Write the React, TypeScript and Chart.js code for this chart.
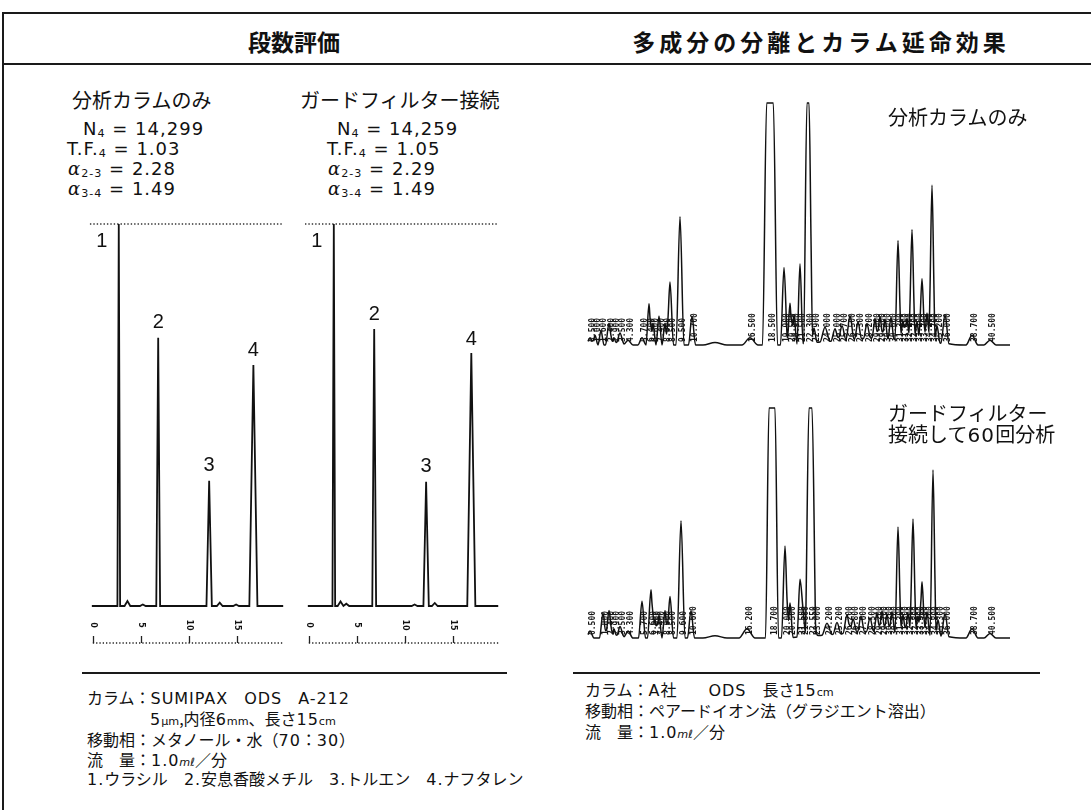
import React, { useEffect, useRef } from "react";
import { Chart, registerables } from "chart.js";

Chart.register(...registerables);

// ================= DATA =================
// 段数評価 : retention time (min) / response (% of full scale)
const plateTimeTicks = [0, 5, 10, 15];
const plateNames = ["1", "2", "3", "4"];

// 分析カラムのみ
const colOnlyPeakTimes = [2.7, 6.8, 12.1, 16.7];
const colOnlyPeakHeights = [100, 70.2, 32.8, 63.1];
const colOnlyPeakWidths = [0.14, 0.2, 0.28, 0.42];
const colOnlyMinorTimes = [3.6, 5.2, 13.2, 14.9];
const colOnlyMinorHeights = [1.3, 0.4, 0.9, 0.4];
const colOnlyMinorWidths = [0.3, 0.3, 0.3, 0.3];
const colOnlyTraceRange = [-0.1, 19.8];
const colOnlyFullScaleRange = [-0.3, 19.8];
const colOnlyAxisRange = [0, 19.8];

// ガードフィルター接続
const guardPeakTimes = [2.6, 6.8, 12.2, 16.9];
const guardPeakHeights = [100, 72.5, 32.5, 66.2];
const guardPeakWidths = [0.14, 0.2, 0.28, 0.42];
const guardMinorTimes = [3.3, 3.9, 11.0, 13.1];
const guardMinorHeights = [1.2, 0.6, 0.4, 0.8];
const guardMinorWidths = [0.3, 0.3, 0.3, 0.3];
const guardTraceRange = [-0.1, 19.7];
const guardFullScaleRange = [-0.4, 19.7];
const guardAxisRange = [0, 19.7];

// 多成分の分離 : 分析カラムのみ (time, % full scale, half width)
const sepOnlyTimes = [0.5, 1.0, 1.6, 2.4, 2.9, 3.5, 4.3, 5.7, 6.4, 6.8, 7.4, 8.0, 8.5, 9.5, 10.7, 13.0, 16.5, 18.5, 19.9, 20.5, 20.9, 21.5, 22.3, 22.9, 24.0, 25.0, 25.7, 26.5, 27.3, 28.2, 28.9, 29.0, 29.5, 30.0, 30.6, 31.3, 31.8, 32.2, 32.7, 33.2, 33.7, 34.2, 34.7, 35.2, 36.0, 38.7, 40.5];
const sepOnlyHeights = [3, 4, 6, 9, 3, 5, 2, 3, 17, 9, 12, 9, 26, 53, 12, 1, 3, 180, 32, 17, 12, 33, 130, 6, 6, 5, 6, 10, 7, 6, 3, 8, 9, 8, 9, 41, 8, 9, 46, 8, 26, 12, 65, 7, 12, 4, 2];
const sepOnlyWidths = [0.4, 0.3, 0.3, 0.35, 0.3, 0.4, 0.5, 0.4, 0.3, 0.3, 0.3, 0.3, 0.35, 0.4, 0.35, 1.2, 0.8, 0.75, 0.35, 0.3, 0.3, 0.3, 0.45, 0.3, 0.5, 0.4, 0.4, 0.4, 0.35, 0.35, 9, 0.3, 0.3, 0.3, 0.3, 0.3, 0.3, 0.3, 0.3, 0.3, 0.3, 0.3, 0.3, 0.3, 0.4, 0.6, 0.6];
const sepOnlyRange = [0.3, 42.5];

// 多成分の分離 : ガードフィルター接続して60回分析
const sepGuardTimes = [0.5, 1.8, 2.4, 2.9, 3.5, 4.3, 5.7, 6.6, 7.0, 7.4, 8.0, 8.5, 9.6, 10.6, 13.0, 16.2, 18.7, 20.0, 20.5, 21.5, 21.8, 22.55, 23.0, 24.2, 25.2, 26.2, 26.8, 27.6, 28.5, 29.0, 29.2, 29.7, 30.2, 30.7, 31.3, 31.8, 32.3, 32.8, 33.3, 33.7, 34.2, 34.8, 35.3, 36.0, 38.7, 40.5];
const sepGuardHeights = [3, 11, 12, 4, 5, 3, 16, 21, 8, 10, 12, 18, 51, 12, 1, 4, 185, 40, 15, 25, 12, 143, 6, 5, 5, 8, 6, 7, 6, 3, 8, 9, 8, 9, 46, 8, 9, 50, 8, 23, 10, 72, 7, 10, 4, 2];
const sepGuardWidths = [0.4, 0.35, 0.35, 0.3, 0.4, 0.5, 0.35, 0.35, 0.3, 0.3, 0.3, 0.35, 0.4, 0.35, 1.2, 0.8, 0.65, 0.35, 0.3, 0.3, 0.3, 0.5, 0.3, 0.5, 0.4, 0.4, 0.4, 0.35, 0.35, 9, 0.3, 0.3, 0.3, 0.3, 0.3, 0.3, 0.3, 0.3, 0.3, 0.3, 0.3, 0.3, 0.3, 0.4, 0.6, 0.6];
const sepGuardRange = [0.3, 42.5];

const FULL_SCALE = 100;

// ================= HELPERS =================
type Pt = { x: number; y: number };

function buildTrace(times: number[], heights: number[], widths: number[], start: number, end: number): Pt[] {
  const knots: number[] = [start, end];
  times.forEach((t, i) => {
    const w = widths[i];
    const h = heights[i];
    knots.push(t - w, t, t + w);
    if (h > FULL_SCALE) {
      const d = w * (1 - FULL_SCALE / h);
      knots.push(t - d, t + d);
    }
  });
  const xs = Array.from(
    new Set(knots.filter((k) => k >= start && k <= end).map((k) => Math.round(k * 10000) / 10000))
  ).sort((a, b) => a - b);
  return xs.map((x) => {
    let y = 0;
    times.forEach((t, i) => {
      const d = Math.abs(x - t);
      if (d < widths[i]) y += heights[i] * (1 - d / widths[i]);
    });
    return { x, y: Math.min(y, FULL_SCALE) };
  });
}

function peakLabelPlugin(times: number[], heights: number[], names: string[]) {
  const offsets = [[-17, 17], [0, -15], [0, -15], [0, -14]];
  return {
    id: "peakLabels",
    afterDatasetsDraw(chart: any) {
      const { ctx, scales } = chart;
      ctx.save();
      ctx.fillStyle = "#111";
      ctx.font = '20px "Liberation Sans", Arial, sans-serif';
      ctx.textAlign = "center";
      ctx.textBaseline = "middle";
      names.forEach((n, i) => {
        const px = scales.x.getPixelForValue(times[i]) + offsets[i][0];
        const py = scales.y.getPixelForValue(heights[i]) + offsets[i][1];
        ctx.fillText(n, px, py);
      });
      ctx.restore();
    },
  };
}

function timeAxisPlugin(ticks: number[], range: number[]) {
  return {
    id: "timeAxis",
    afterDraw(chart: any) {
      const { ctx, scales } = chart;
      const y0 = scales.y.getPixelForValue(0) + 37;
      ctx.save();
      ctx.strokeStyle = "#222";
      ctx.fillStyle = "#111";
      ctx.lineWidth = 1.3;
      ctx.setLineDash([1.3, 2]);
      ctx.beginPath();
      ctx.moveTo(scales.x.getPixelForValue(range[0]), y0);
      ctx.lineTo(scales.x.getPixelForValue(range[1]), y0);
      ctx.stroke();
      ctx.setLineDash([]);
      ticks.forEach((v) => {
        const px = Math.round(scales.x.getPixelForValue(v)) + 0.5;
        ctx.beginPath();
        ctx.moveTo(px, y0);
        ctx.lineTo(px, y0 - 7);
        ctx.stroke();
        ctx.save();
        ctx.translate(px, y0 - 18);
        ctx.rotate(Math.PI / 2);
        ctx.font = 'bold 8px "DejaVu Sans", sans-serif';
        ctx.textAlign = "center";
        ctx.textBaseline = "middle";
        ctx.fillText(String(v), 0, 0);
        ctx.restore();
      });
      ctx.restore();
    },
  };
}

function rtLabelPlugin(times: number[], widths: number[]) {
  return {
    id: "rtLabels",
    beforeDatasetsDraw(chart: any) {
      const { ctx, scales } = chart;
      const base = scales.y.getPixelForValue(0);
      ctx.save();
      ctx.fillStyle = "#151515";
      ctx.font = 'bold 8px "DejaVu Sans Mono", monospace';
      ctx.textAlign = "left";
      ctx.textBaseline = "middle";
      times.forEach((t, i) => {
        if (widths[i] >= 1) return;
        const px = scales.x.getPixelForValue(t) + 3;
        ctx.save();
        ctx.translate(px, base - 3);
        ctx.rotate(-Math.PI / 2);
        ctx.fillText(t.toFixed(3), 0, 0);
        ctx.restore();
      });
      ctx.restore();
    },
  };
}

function chromConfig(p: {
  trace: Pt[];
  xMin: number;
  xMax: number;
  yMin: number;
  yMax: number;
  lineWidth: number;
  padding: any;
  smooth?: boolean;
  extra?: any[];
  plugins: any[];
}) {
  return {
    type: "line",
    data: {
      datasets: [
        {
          data: p.trace,
          borderColor: "#111",
          borderWidth: p.lineWidth,
          pointRadius: 0,
          tension: p.smooth ? 0.4 : 0,
          cubicInterpolationMode: p.smooth ? "monotone" : "default",
          fill: false,
          clip: false,
          borderJoinStyle: "miter",
        },
        ...(p.extra || []),
      ],
    },
    options: {
      animation: false,
      responsive: false,
      maintainAspectRatio: false,
      events: [],
      layout: { padding: p.padding },
      scales: {
        x: { type: "linear", min: p.xMin, max: p.xMax, display: false },
        y: { type: "linear", min: p.yMin, max: p.yMax, display: false },
      },
      plugins: { legend: { display: false }, tooltip: { enabled: false } },
    },
    plugins: p.plugins,
  } as any;
}

function ChromCanvas({ left, top, width, height, make }: { left: number; top: number; width: number; height: number; make: () => any }) {
  const ref = useRef<HTMLCanvasElement>(null);
  useEffect(() => {
    const chart = new Chart(ref.current as HTMLCanvasElement, make());
    return () => chart.destroy();
  }, []);
  return (
    <canvas
      ref={ref}
      width={width}
      height={height}
      style={{ position: "absolute", left, top, width, height }}
    />
  );
}

function plateChart(
  times: number[], heights: number[], widths: number[],
  mTimes: number[], mHeights: number[], mWidths: number[],
  traceRange: number[], fsRange: number[], axisRange: number[]
) {
  return () =>
    chromConfig({
      trace: buildTrace(times.concat(mTimes), heights.concat(mHeights), widths.concat(mWidths), traceRange[0], traceRange[1]),
      xMin: -0.5,
      xMax: 20.3,
      yMin: -11.52,
      yMax: 102.62,
      lineWidth: 1.8,
      padding: { left: 8, right: 8, top: 10, bottom: 10 },
      extra: [
        {
          data: [
            { x: fsRange[0], y: FULL_SCALE },
            { x: fsRange[1], y: FULL_SCALE },
          ],
          borderColor: "#333",
          borderWidth: 1.3,
          borderDash: [1.4, 2],
          pointRadius: 0,
          clip: false,
        },
      ],
      plugins: [peakLabelPlugin(times, heights, plateNames), timeAxisPlugin(plateTimeTicks, axisRange)],
    });
}

function sepChart(times: number[], heights: number[], widths: number[], range: number[], yMin: number, yMax: number) {
  return () =>
    chromConfig({
      trace: buildTrace(times, heights, widths, range[0], range[1]),
      xMin: -0.2,
      xMax: 42.8,
      yMin,
      yMax,
      lineWidth: 1.5,
      padding: 5,
      smooth: true,
      plugins: [rtLabelPlugin(times, widths)],
    });
}

// ================= TEXT =================
const JP = '"Noto Sans CJK JP", "Noto Sans", sans-serif';
const LAT = '"DejaVu Sans", "Noto Sans CJK JP", sans-serif';

function Line({ x, cy, size = 16, children, style }: any) {
  return (
    <div
      style={{
        position: "absolute",
        left: x,
        top: cy - size * 0.65,
        height: size * 1.3,
        lineHeight: `${size * 1.3}px`,
        fontSize: size,
        fontFamily: JP,
        whiteSpace: "nowrap",
        color: "#111",
        ...style,
      }}
    >
      {children}
    </div>
  );
}

const L = ({ children }: any) => (
  <span style={{ fontFamily: LAT, letterSpacing: "0.06em" }}>{children}</span>
);
const U = ({ children, italic }: any) => (
  <span style={{ fontFamily: LAT, fontSize: "0.7em", fontStyle: italic ? "italic" : "normal" }}>{children}</span>
);
const Sub = ({ children }: any) => (
  <span style={{ fontSize: "0.62em", position: "relative", top: "0.12em" }}>{children}</span>
);
const Alpha = () => <span style={{ fontFamily: '"DejaVu Serif", serif', fontStyle: "italic" }}>α</span>;

function Stat({ x, cy, children }: any) {
  return (
    <Line x={x} cy={cy} size={18} style={{ fontFamily: LAT, letterSpacing: "1px" }}>
      {children}
    </Line>
  );
}

export default function App() {
  const rule = (left: number, top: number, width: number, height: number) => (
    <div style={{ position: "absolute", left, top, width, height, background: "#1a1a1a" }} />
  );
  return (
    <div
      style={{
        position: "absolute",
        left: 0,
        top: 0,
        width: 1091,
        height: 810,
        background: "#fff",
        overflow: "hidden",
        fontFamily: JP,
      }}
    >
      {rule(2, 12, 1089, 2)}
      {rule(2, 63, 1089, 2)}
      {rule(2, 12, 2, 798)}
      {rule(82, 672, 425, 1.5)}
      {rule(573, 672, 467, 1.5)}

      <div style={{ position: "absolute", left: 294, top: 41 - 15, transform: "translateX(-50%)", fontSize: 23, lineHeight: "30px", fontWeight: 700, whiteSpace: "nowrap", color: "#111" }}>
        段数評価
      </div>
      <div style={{ position: "absolute", left: 821, top: 41 - 15, transform: "translateX(-50%)", fontSize: 23, lineHeight: "30px", fontWeight: 700, letterSpacing: "4px", whiteSpace: "nowrap", color: "#111" }}>
        多成分の分離とカラム延命効果
      </div>

      {/* left headings & figures of merit */}
      <Line x={72} cy={99.5} size={20}>分析カラムのみ</Line>
      <Line x={300} cy={99.5} size={20}>ガードフィルター接続</Line>

      <Stat x={83} cy={129}>N<Sub>4</Sub> = 14,299</Stat>
      <Stat x={67} cy={149}>T.F.<Sub>4</Sub> = 1.03</Stat>
      <Stat x={68} cy={169}><Alpha /><Sub>2-3</Sub> = 2.28</Stat>
      <Stat x={68} cy={189}><Alpha /><Sub>3-4</Sub> = 1.49</Stat>

      <Stat x={337} cy={129}>N<Sub>4</Sub> = 14,259</Stat>
      <Stat x={327} cy={149}>T.F.<Sub>4</Sub> = 1.05</Stat>
      <Stat x={328} cy={169}><Alpha /><Sub>2-3</Sub> = 2.29</Stat>
      <Stat x={328} cy={189}><Alpha /><Sub>3-4</Sub> = 1.49</Stat>

      <ChromCanvas
        left={80}
        top={204}
        width={216}
        height={456}
        make={plateChart(colOnlyPeakTimes, colOnlyPeakHeights, colOnlyPeakWidths, colOnlyMinorTimes, colOnlyMinorHeights, colOnlyMinorWidths, colOnlyTraceRange, colOnlyFullScaleRange, colOnlyAxisRange)}
      />
      <ChromCanvas
        left={296}
        top={204}
        width={216}
        height={456}
        make={plateChart(guardPeakTimes, guardPeakHeights, guardPeakWidths, guardMinorTimes, guardMinorHeights, guardMinorWidths, guardTraceRange, guardFullScaleRange, guardAxisRange)}
      />

      {/* right chromatograms */}
      <ChromCanvas left={578} top={93} width={440} height={262} make={sepChart(sepOnlyTimes, sepOnlyHeights, sepOnlyWidths, sepOnlyRange, -2.07, 102.07)} />
      <ChromCanvas left={578} top={398} width={440} height={250} make={sepChart(sepGuardTimes, sepGuardHeights, sepGuardWidths, sepGuardRange, -2.17, 102.17)} />

      <Line x={888} cy={117} size={20}>分析カラムのみ</Line>
      <Line x={888} cy={413} size={20}>ガードフィルター</Line>
      <Line x={888} cy={434} size={20}>接続して<L>60</L>回分析</Line>

      {/* conditions, left */}
      <Line x={87} cy={697}>カラム：<L>SUMIPAX</L>　<L>ODS</L>　<L>A-212</L></Line>
      <Line x={150} cy={718}><L>5</L><U>μm</U>,内径<L>6</L><U>mm</U>、長さ<L>15</L><U>cm</U></Line>
      <Line x={87} cy={739}>移動相：メタノール・水（<L>70</L>：<L>30</L>）</Line>
      <Line x={87} cy={759}>流　量：<L>1.0</L><U italic>mℓ</U>／分</Line>
      <Line x={87} cy={778}><L>1.</L>ウラシル　<L>2.</L>安息香酸メチル　<L>3.</L>トルエン　<L>4.</L>ナフタレン</Line>

      {/* conditions, right */}
      <Line x={585} cy={689}>カラム：<L>A</L>社　　<L>ODS</L>　長さ<L>15</L><U>cm</U></Line>
      <Line x={585} cy={710}>移動相：ペアードイオン法（グラジエント溶出）</Line>
      <Line x={585} cy={731}>流　量：<L>1.0</L><U italic>mℓ</U>／分</Line>
    </div>
  );
}
